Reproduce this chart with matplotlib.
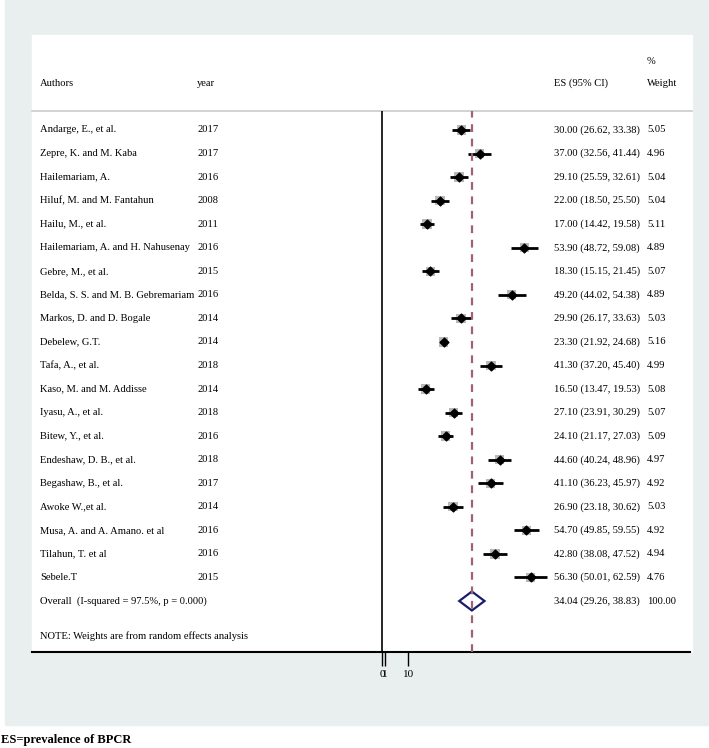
import matplotlib
matplotlib.use('Agg')
import matplotlib.pyplot as plt
import matplotlib.transforms as mtransforms
from matplotlib.patches import Rectangle, Polygon

# data
authors = ["Andarge, E., et al.", "Zepre, K. and M. Kaba", "Hailemariam, A.",
           "Hiluf, M. and M. Fantahun", "Hailu, M., et al.",
           "Hailemariam, A. and H. Nahusenay", "Gebre, M., et al.",
           "Belda, S. S. and M. B. Gebremariam", "Markos, D. and D. Bogale",
           "Debelew, G.T.", "Tafa, A., et al.", "Kaso, M. and M. Addisse",
           "Iyasu, A., et al.", "Bitew, Y., et al.", "Endeshaw, D. B., et al.",
           "Begashaw, B., et al.", "Awoke W.,et al.", "Musa, A. and A. Amano. et al",
           "Tilahun, T. et al", "Sebele.T"]
years = [2017, 2017, 2016, 2008, 2011, 2016, 2015, 2016, 2014, 2014,
         2018, 2014, 2018, 2016, 2018, 2017, 2014, 2016, 2016, 2015]
es = [30.00, 37.00, 29.10, 22.00, 17.00, 53.90, 18.30, 49.20, 29.90, 23.30,
      41.30, 16.50, 27.10, 24.10, 44.60, 41.10, 26.90, 54.70, 42.80, 56.30]
lo = [26.62, 32.56, 25.59, 18.50, 14.42, 48.72, 15.15, 44.02, 26.17, 21.92,
      37.20, 13.47, 23.91, 21.17, 40.24, 36.23, 23.18, 49.85, 38.08, 50.01]
hi = [33.38, 41.44, 32.61, 25.50, 19.58, 59.08, 21.45, 54.38, 33.63, 24.68,
      45.40, 19.53, 30.29, 27.03, 48.96, 45.97, 30.62, 59.55, 47.52, 62.59]
weights = [5.05, 4.96, 5.04, 5.04, 5.11, 4.89, 5.07, 4.89, 5.03, 5.16,
           4.99, 5.08, 5.07, 5.09, 4.97, 4.92, 5.03, 4.92, 4.94, 4.76]
overall_es, overall_lo, overall_hi, overall_w = 34.04, 29.26, 38.83, 100.00
overall_label = "Overall  (I-squared = 97.5%, p = 0.000)"
x_ticks = [0, 1, 10]

plt.rcParams['font.family'] = ['Liberation Serif', 'DejaVu Serif']
FS = 7.6

fig = plt.figure(figsize=(7.09, 7.48), dpi=100)

# background in pixel coordinates
bg = fig.add_axes([0, 0, 1, 1])
bg.set_xlim(0, 709)
bg.set_ylim(748, 0)
bg.axis('off')
bg.add_patch(Rectangle((5, 0), 704, 725, color='#e9eeee', zorder=0))
bg.add_patch(Rectangle((32, 35), 660, 617, color='white', zorder=1))
bg.plot([32, 692], [111, 111], color='#c9cccc', lw=1.2, zorder=2)

bg.text(40, 83, "Authors", fontsize=FS, va='center')
bg.text(197, 83, "year", fontsize=FS, va='center')
bg.text(554, 83, "ES (95% CI)", fontsize=FS, va='center')
bg.text(647, 61, "%", fontsize=FS, va='center')
bg.text(647, 83, "Weight", fontsize=FS, va='center')
bg.text(1, 740, "ES=prevalence of BPCR", fontsize=9, fontweight='bold', va='center')

# forest axes: 0 at x=382 px, 2.64 px per unit, rows 23.55 px apart
px0, scale = 382, 2.64
left_px, right_px, top_px, bot_px = 32, 690, 111, 652
row0, step = 130, 23.55
ax = fig.add_axes([left_px / 709, 1 - bot_px / 748,
                   (right_px - left_px) / 709, (bot_px - top_px) / 748])
ax.set_xlim((left_px - px0) / scale, (right_px - px0) / scale)
ax.set_ylim((bot_px - row0) / step, (top_px - row0) / step)
ax.patch.set_visible(False)
for s in ['top', 'right', 'left']:
    ax.spines[s].set_visible(False)
ax.spines['bottom'].set_linewidth(1.5)
ax.set_yticks([])
ax.set_xticks(x_ticks)
ax.set_xticklabels([str(t) for t in x_ticks], fontsize=8)
ax.tick_params(axis='x', length=10, width=1, pad=3)

rows = list(range(len(authors)))
overall_row = len(authors)
note_row = overall_row + 1.49

ax.axvline(0, color='black', lw=1.2, zorder=2)
ax.axvline(overall_es, color='#a0626f', lw=1.6, ls=(0, (3.5, 3)), zorder=5)

ax.hlines(rows, lo, hi, color='black', lw=2, zorder=3)
ax.scatter(es, rows, marker='s', s=[w * 9 for w in weights], color='#b8b8b8',
           edgecolors='none', zorder=2.5)
ax.scatter(es, rows, marker='D', s=20, color='black', zorder=4)

dh = 9.5 / step
ax.add_patch(Polygon([(overall_lo, overall_row), (overall_es, overall_row - dh),
                      (overall_hi, overall_row), (overall_es, overall_row + dh)],
                     closed=True, facecolor='white', edgecolor='#1b1b6b', lw=1.6, zorder=4))

tr = mtransforms.blended_transform_factory(bg.transData, ax.transData)
for i in rows:
    ax.text(40, i, authors[i], transform=tr, fontsize=FS, va='center')
    ax.text(197, i, str(years[i]), transform=tr, fontsize=FS, va='center')
    ax.text(554, i, f"{es[i]:.2f} ({lo[i]:.2f}, {hi[i]:.2f})", transform=tr,
            fontsize=FS, va='center')
    ax.text(647, i, f"{weights[i]:.2f}", transform=tr, fontsize=FS, va='center')

ax.text(40, overall_row, overall_label, transform=tr, fontsize=FS, va='center')
ax.text(554, overall_row, f"{overall_es:.2f} ({overall_lo:.2f}, {overall_hi:.2f})",
        transform=tr, fontsize=FS, va='center')
ax.text(647, overall_row, f"{overall_w:.2f}", transform=tr, fontsize=FS, va='center')
ax.text(40, note_row, "NOTE: Weights are from random effects analysis", transform=tr,
        fontsize=FS, va='center')

fig.savefig('out.png', dpi=100)
